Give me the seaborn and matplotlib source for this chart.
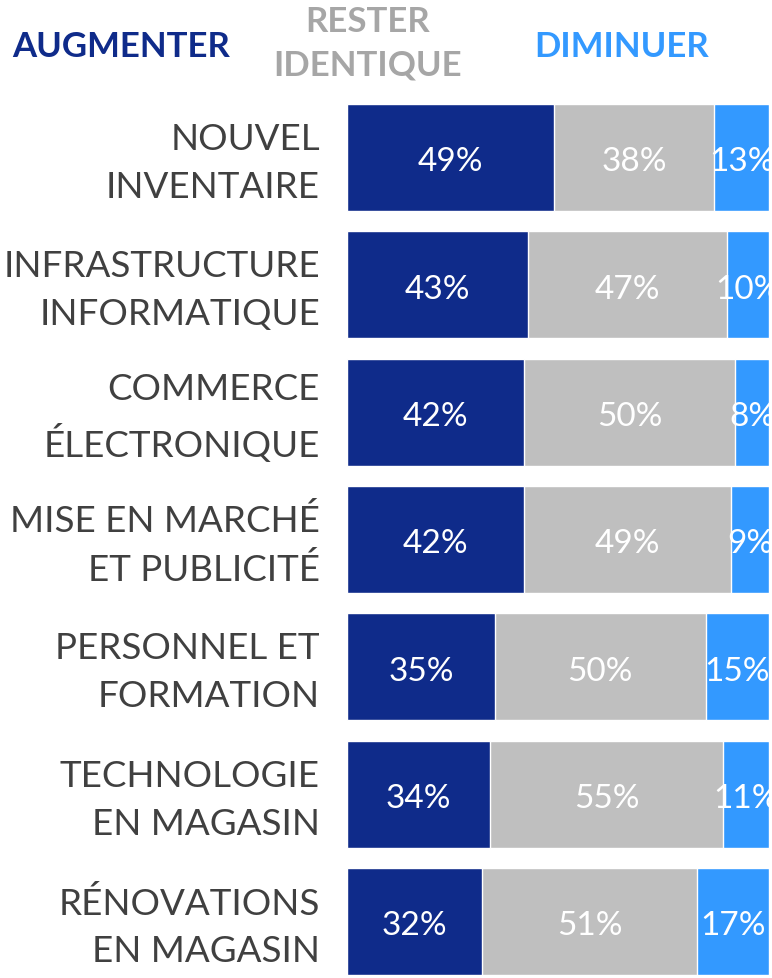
import matplotlib
matplotlib.use("Agg")
import matplotlib.pyplot as plt
import matplotlib.transforms as mtransforms
import seaborn as sns
import pandas as pd
import numpy as np

categories = ["NOUVEL\nINVENTAIRE", "INFRASTRUCTURE\nINFORMATIQUE", "COMMERCE\nÉLECTRONIQUE",
              "MISE EN MARCHÉ\nET PUBLICITÉ", "PERSONNEL ET\nFORMATION", "TECHNOLOGIE\nEN MAGASIN",
              "RÉNOVATIONS\nEN MAGASIN"]
augmenter = [49, 43, 42, 42, 35, 34, 32]
identique = [38, 47, 50, 49, 50, 55, 51]
diminuer = [13, 10, 8, 9, 15, 11, 17]
series_names = ["AUGMENTER", "RESTER\nIDENTIQUE", "DIMINUER"]

c_navy = "#0F2B8A"
c_grey = "#BFBFBF"
c_blue = "#3399FF"

sns.set_theme(style="white")
plt.rcParams["font.family"] = ["Lato", "DejaVu Sans"]

df = pd.DataFrame({"cat": categories, "a": augmenter, "b": identique, "c": diminuer})
df["ab"] = df["a"] + df["b"]
df["abc"] = df["ab"] + df["c"]

fig = plt.figure(figsize=(7.72, 9.79), dpi=100)
ax = fig.add_axes([347/772, 1 - 976/979, (769-347)/772, (976-105)/979])

sns.barplot(data=df, y="cat", x="abc", color=c_blue, orient="h", width=0.84, ax=ax, saturation=1)
sns.barplot(data=df, y="cat", x="ab", color=c_grey, orient="h", width=0.84, ax=ax, saturation=1)
sns.barplot(data=df, y="cat", x="a", color=c_navy, orient="h", width=0.84, ax=ax, saturation=1)

ax.set_xlim(0, 100)
ax.set_ylim(6.42, -0.42)
ax.set_xlabel("")
ax.set_ylabel("")
ax.set_xticks([])
for s in ax.spines.values():
    s.set_visible(False)
ax.tick_params(axis="y", length=0, pad=19.5)
ax.set_yticks(range(len(categories)))
ax.set_yticklabels(categories, fontsize=26.5, color="#404040", ha="right", linespacing=1.55)
offset = mtransforms.ScaledTranslation(0, -5/100, fig.dpi_scale_trans)
for lbl in ax.get_yticklabels():
    lbl.set_multialignment("right")
    lbl.set_va("center")
    lbl.set_transform(lbl.get_transform() + offset)

for i in range(len(categories)):
    a, b, c = augmenter[i], identique[i], diminuer[i]
    for left, w in [(0, a), (a, b), (a + b, c)]:
        ax.text(left + w / 2, i + 0.03, f"{w}%", ha="center", va="center",
                color="white", fontsize=24, clip_on=True)

fig.text(121/772, 1 - 47/979, series_names[0], ha="center", va="center",
         color=c_navy, fontsize=25, fontweight="bold")
fig.text(368/772, 1 - 44/979, series_names[1], ha="center", va="center",
         color="#A6A6A6", fontsize=25, fontweight="bold", linespacing=1.45)
fig.text(622/772, 1 - 47/979, series_names[2], ha="center", va="center",
         color=c_blue, fontsize=25, fontweight="bold")

fig.savefig("out.png", dpi=100)
